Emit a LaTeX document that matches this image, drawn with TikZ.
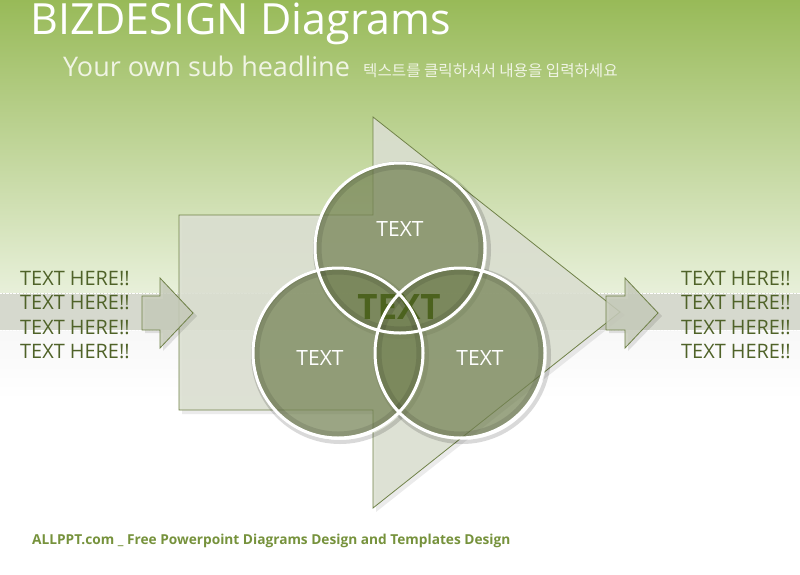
\documentclass[tikz,border=0pt]{standalone}
\usepackage{fontspec}
\setmainfont{Open Sans}
\newfontfamily\krfont{Noto Sans CJK KR}
\definecolor{bgtop}{RGB}{152,186,88}
\definecolor{bgmid}{RGB}{232,240,218}
\definecolor{bandgray}{RGB}{214,217,206}
\definecolor{arrowfill}{RGB}{220,224,210}
\definecolor{arrowline}{RGB}{112,130,72}
\definecolor{smallfill}{RGB}{200,205,188}
\definecolor{vennfill}{RGB}{116,130,84}
\definecolor{bizdark}{RGB}{79,98,40}
\definecolor{centergreen}{RGB}{76,98,30}
\definecolor{subwhite}{RGB}{240,244,228}
\definecolor{footgreen}{RGB}{118,146,60}
\begin{document}
\begin{tikzpicture}[x=1pt,y=-1pt,
    venn/.style={circle, minimum size=170pt, inner sep=0pt, fill=vennfill, fill opacity=0.72},
    vennring/.style={draw=white, line width=3pt},
    vennshade/.style={draw=black, draw opacity=0.1, line width=5pt},
    venntext/.style={text=white, font=\fontsize{21}{24}\selectfont},
    sidetext/.style={text=bizdark, align=left, inner sep=0pt, font=\fontsize{19.9}{24.4}\selectfont},
    smallarrow/.style={draw=arrowline, fill=smallfill, fill opacity=0.85, line width=0.8pt}]
    \useasboundingbox (0,0) rectangle (800,574);
    \fill[top color=bgtop, bottom color=bgmid] (0,0) rectangle (800,293);
    \fill[bandgray] (0,293) rectangle (800,330);
    \fill[top color=black!3, bottom color=white] (0,330) rectangle (800,400);
    \draw[white, densely dotted] (0,293) -- (800,293);
    \draw[white, densely dotted] (0,330) -- (800,330);

    \node[text=white, anchor=base west, inner sep=0pt, font=\fontsize{43}{48}\selectfont] (title) at (30,34) {BIZDESIGN Diagrams};
    \node[text=subwhite, anchor=base west, inner sep=0pt, font=\fontsize{27}{30}\selectfont] (subtitle) at (63,76) {Your own sub headline};
    \node[text=subwhite, anchor=base west, inner sep=0pt, font=\krfont\fontsize{15.6}{18}\selectfont] (kortext) at (363,76) {텍스트를 클릭하셔서 내용을 입력하세요};

    \fill[black, opacity=0.08] (182,218) -- (376,218) -- (376,121) -- (625,315) -- (376,512) -- (376,414) -- (182,414) -- cycle;
    \draw[draw=arrowline, fill=arrowfill, fill opacity=0.9, line width=0.8pt]
      (179,215) -- (373,215) -- (373,117) -- (620,312) -- (373,508) -- (373,410) -- (179,410) -- cycle;

    \fill[black, opacity=0.1] (145,299) -- (163,299) -- (163,281) -- (197,316) -- (163,351) -- (163,333) -- (145,333) -- cycle;
    \fill[black, opacity=0.1] (609,299) -- (628,299) -- (628,281) -- (662,316) -- (628,351) -- (628,333) -- (609,333) -- cycle;
    \draw[smallarrow] (142,296) -- (160,296) -- (160,278) -- (193,313) -- (160,348) -- (160,330) -- (142,330) -- cycle;
    \draw[smallarrow] (606,296) -- (625,296) -- (625,278) -- (658,313) -- (625,348) -- (625,330) -- (606,330) -- cycle;

    \node[sidetext, anchor=west] (lefttext) at (20,315) {TEXT HERE!!\\TEXT HERE!!\\TEXT HERE!!\\TEXT HERE!!};
    \node[sidetext, anchor=west] (righttext) at (681,315) {TEXT HERE!!\\TEXT HERE!!\\TEXT HERE!!\\TEXT HERE!!};

    \draw[black, opacity=0.15, line width=4pt] (402,250) circle[radius=87];
    \draw[black, opacity=0.15, line width=4pt] (340,355) circle[radius=87];
    \draw[black, opacity=0.15, line width=4pt] (462,355) circle[radius=87];
    \node[venn] (venntop) at (400,248) {};
    \node[venn] (vennleft) at (338,353) {};
    \node[venn] (vennright) at (460,353) {};
    \draw[vennshade] (venntop.center) circle[radius=81];
    \draw[vennshade] (vennleft.center) circle[radius=81];
    \draw[vennshade] (vennright.center) circle[radius=81];
    \node[text=centergreen, font=\bfseries\fontsize{35}{40}\selectfont] (venncenter) at (399,307) {TEXT};
    \draw[vennring] (venntop.center) circle[radius=85];
    \draw[vennring] (vennleft.center) circle[radius=85];
    \draw[vennring] (vennright.center) circle[radius=85];
    \node[venntext] (toplabel) at (400,229) {TEXT};
    \node[venntext] (leftlabel) at (320,358) {TEXT};
    \node[venntext] (rightlabel) at (480,358) {TEXT};

    \node[text=footgreen, anchor=base west, inner sep=0pt, font=\bfseries\fontsize{13.7}{16}\selectfont] (footer) at (32,544) {ALLPPT.com \_ Free Powerpoint Diagrams Design and Templates Design};
\end{tikzpicture}
\end{document}
